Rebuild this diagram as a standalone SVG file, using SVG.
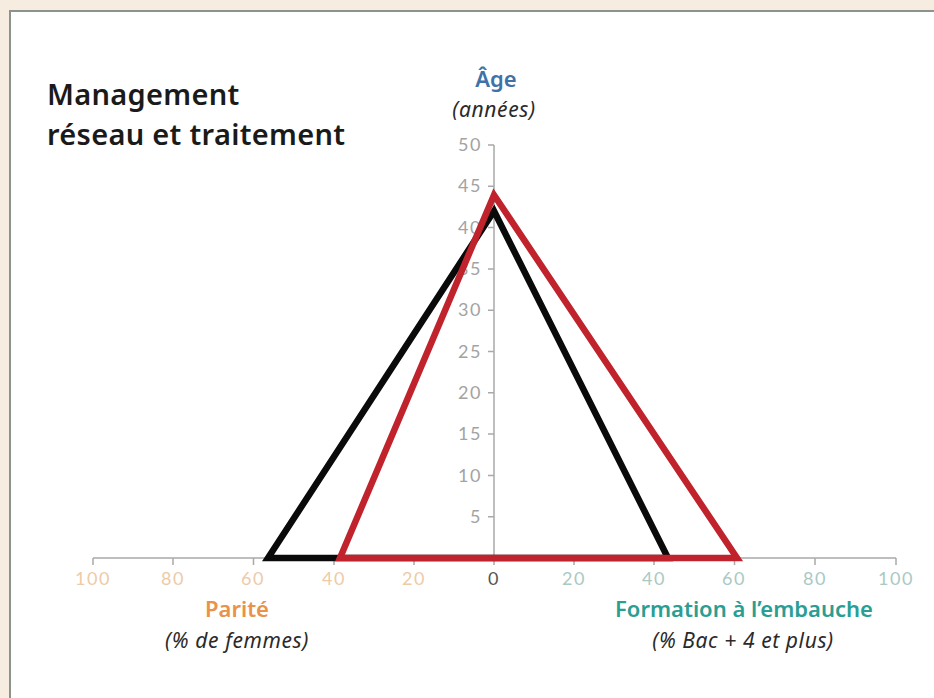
<svg xmlns="http://www.w3.org/2000/svg" width="934" height="698" viewBox="0 0 934 698">
<style>
.axis{stroke:#a9a9a9;stroke-width:1.5;fill:none}
.tl{font-family:"Lato","Liberation Sans",sans-serif;font-size:18px;letter-spacing:1.5px}
.vl{fill:#a3a3a3;text-anchor:end}
.ll{fill:#edcba8;text-anchor:middle}
.rl{fill:#a9c9c5;text-anchor:middle}
.title{font-family:"Noto Sans","Liberation Sans",sans-serif;font-weight:600;font-size:29px;letter-spacing:0.3px;fill:#1a1a1a}
.lab{font-family:"Noto Sans","Liberation Sans",sans-serif;font-weight:600;font-size:22px;text-anchor:middle}
.sub{font-family:"Noto Sans","Liberation Sans",sans-serif;font-style:italic;font-size:21px;letter-spacing:0.6px;fill:#2a2a2a;text-anchor:middle}
</style>
<rect x="0" y="0" width="934" height="698" fill="#f6ece0"/>
<rect x="10" y="11" width="930" height="700" fill="#ffffff" stroke="#8c928c" stroke-width="2"/>
<g id="title">
<text class="title" x="47" y="105">Management</text>
<text class="title" x="47" y="145">réseau et traitement</text>
</g>
<g id="axes">
<line class="axis" x1="494" y1="145" x2="494" y2="565"/>
<line class="axis" x1="93" y1="558" x2="896" y2="558"/>
<path class="axis" d="M488 145H494M488 186.3H494M488 227.6H494M488 268.9H494M488 310.2H494M488 351.5H494M488 392.8H494M488 434.1H494M488 475.4H494M488 516.7H494"/>
<path class="axis" d="M93 558V565M173 558V565M253.5 558V565M334 558V565M414 558V565M574 558V565M654 558V565M734.5 558V565M815 558V565M896 558V565"/>
<g class="tl vl">
<text x="482" y="151">50</text>
<text x="482" y="192">45</text>
<text x="482" y="234">40</text>
<text x="482" y="275">35</text>
<text x="482" y="316">30</text>
<text x="482" y="358">25</text>
<text x="482" y="399">20</text>
<text x="482" y="440">15</text>
<text x="482" y="482">10</text>
<text x="482" y="523">5</text>
</g>
<g class="tl ll">
<text x="93" y="585">100</text>
<text x="173" y="585">80</text>
<text x="253" y="585">60</text>
<text x="334" y="585">40</text>
<text x="414" y="585">20</text>
</g>
<text class="tl" x="494" y="585" text-anchor="middle" fill="#555555">0</text>
<g class="tl rl">
<text x="574" y="585">20</text>
<text x="654" y="585">40</text>
<text x="734" y="585">60</text>
<text x="815" y="585">80</text>
<text x="896" y="585">100</text>
</g>
</g>
<g id="series-black">
<polygon points="494,211 668,558 268,558" fill="none" stroke="#0a0a0a" stroke-width="6.5" stroke-linejoin="miter"/>
</g>
<g id="series-red">
<polygon points="494,195 737,558 340,558" fill="none" stroke="#c0232b" stroke-width="6.5" stroke-linejoin="miter"/>
</g>
<g id="label-age">
<text class="lab" x="496" y="87" fill="#3f72a8">Âge</text>
<text class="sub" x="494" y="117">(années)</text>
</g>
<g id="label-parite">
<text class="lab" x="237" y="617" fill="#e8924a">Parité</text>
<text class="sub" x="237" y="648">(% de femmes)</text>
</g>
<g id="label-formation">
<text class="lab" x="744" y="617" fill="#2a9e92">Formation à l’embauche</text>
<text class="sub" x="743" y="648">(% Bac + 4 et plus)</text>
</g>
</svg>
